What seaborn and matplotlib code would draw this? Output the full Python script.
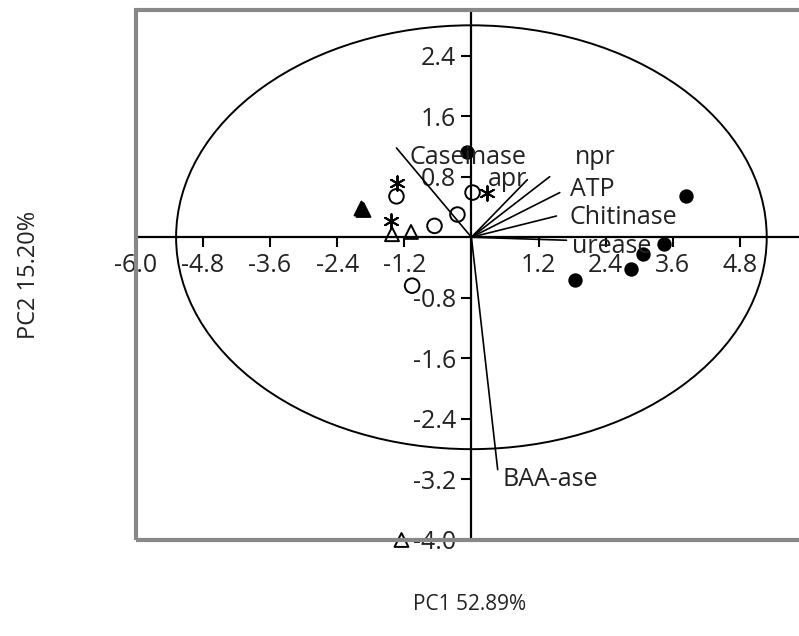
import numpy as np
import pandas as pd
import matplotlib
matplotlib.use("Agg")
import matplotlib.pyplot as plt
from matplotlib.patches import Ellipse, Rectangle
import seaborn as sns

# PCA scores
filled_x = [3.84, 3.44, 3.06, 2.85, 1.86, -0.07]
filled_y = [0.54, -0.09, -0.22, -0.42, -0.56, 1.13]
open_circle_x = [-1.34, -0.66, -0.25, 0.02, -1.06]
open_circle_y = [0.54, 0.15, 0.30, 0.59, -0.64]
open_tri_x = [-1.93, -1.42, -1.08, -1.25]
open_tri_y = [0.36, 0.04, 0.07, -4.0]
filled_tri_x = [-1.98]
filled_tri_y = [0.38]
star_x = [-1.33, -1.43, 0.27]
star_y = [0.72, 0.21, 0.59]

# loading vectors
loading_names = ['Caseinase', 'npr', 'apr', 'ATP', 'Chitinase', 'urease', 'BAA-ase']
loading_x = [-1.34, 1.40, 1.00, 1.58, 1.52, 1.70, 0.47]
loading_y = [1.18, 0.80, 0.76, 0.59, 0.28, -0.04, -3.07]
label_x = [-1.11, 1.85, 0.29, 1.76, 1.76, 1.79, 0.56]
label_y = [1.06, 1.06, 0.76, 0.63, 0.26, -0.12, -3.20]

# 95% ellipse half-axes
ellipse_a = 5.28
ellipse_b = 2.80

x_ticks = [-6.0, -4.8, -3.6, -2.4, -1.2, 1.2, 2.4, 3.6, 4.8]
y_ticks = [2.4, 1.6, 0.8, -0.8, -1.6, -2.4, -3.2, -4.0]

sns.set_style('white')
plt.rcParams['font.family'] = ['Open Sans', 'DejaVu Sans']
fs = 18
ink = '#222222'

fig = plt.figure(figsize=(7.99, 6.36), dpi=100)
ax = fig.add_axes([0.170, 0.151, 0.840, 0.833])

groups = [
    (filled_x, filled_y, 'o', 'black', 80),
    (open_circle_x, open_circle_y, 'o', 'none', 110),
    (open_tri_x, open_tri_y, '^', 'none', 100),
    (filled_tri_x, filled_tri_y, '^', 'black', 100),
    (star_x, star_y, (6, 2, 0), 'black', 110),
]
for gx, gy, m, fc, s in groups:
    df = pd.DataFrame({'PC1': gx, 'PC2': gy})
    sns.scatterplot(data=df, x='PC1', y='PC2', marker=m, s=s, facecolor=fc,
                    edgecolor='black', linewidth=1.4, ax=ax, zorder=4, clip_on=False)

for name, lx, ly, tx, ty in zip(loading_names, loading_x, loading_y, label_x, label_y):
    ax.plot([0, lx], [0, ly], color='black', lw=1.2, zorder=3)
    ax.text(tx, ty, name, fontsize=fs, color=ink, ha='left', va='center', zorder=5)

ax.add_patch(Ellipse((0, 0), 2 * ellipse_a, 2 * ellipse_b, fill=False,
                     edgecolor='black', lw=1.4, zorder=2))

ax.set_xlim(-6.0, 6.0)
ax.set_ylim(-4.0, 3.0)

# axes crossing at the origin
for side in ['left', 'bottom']:
    ax.spines[side].set_position(('data', 0))
    ax.spines[side].set_color('black')
    ax.spines[side].set_linewidth(1.6)
    ax.spines[side].set_zorder(3)
for side in ['top', 'right']:
    ax.spines[side].set_visible(False)
ax.add_patch(Rectangle((0, 0), 1, 1, transform=ax.transAxes, fill=False,
                       edgecolor='#888888', lw=3, clip_on=False, zorder=6))

ax.set_xticks(x_ticks)
ax.set_xticklabels([f'{v:.1f}' for v in x_ticks])
ax.set_yticks(y_ticks)
ax.set_yticklabels([f'{v:.1f}' for v in y_ticks])
ax.tick_params(axis='both', direction='out', length=7, width=1.5, color='black',
               labelsize=fs, labelcolor=ink, pad=4, left=True, bottom=True)
ax.set_xlabel('')
ax.set_ylabel('')

fig.text(470 / 799, 1 - 605 / 636, 'PC1 52.89%', fontsize=15, color=ink,
         ha='center', va='center')
fig.text(29 / 799, 1 - 275 / 636, 'PC2 15.20%', fontsize=17, color=ink,
         ha='center', va='center', rotation=90)

fig.savefig('out.png', dpi=100)
